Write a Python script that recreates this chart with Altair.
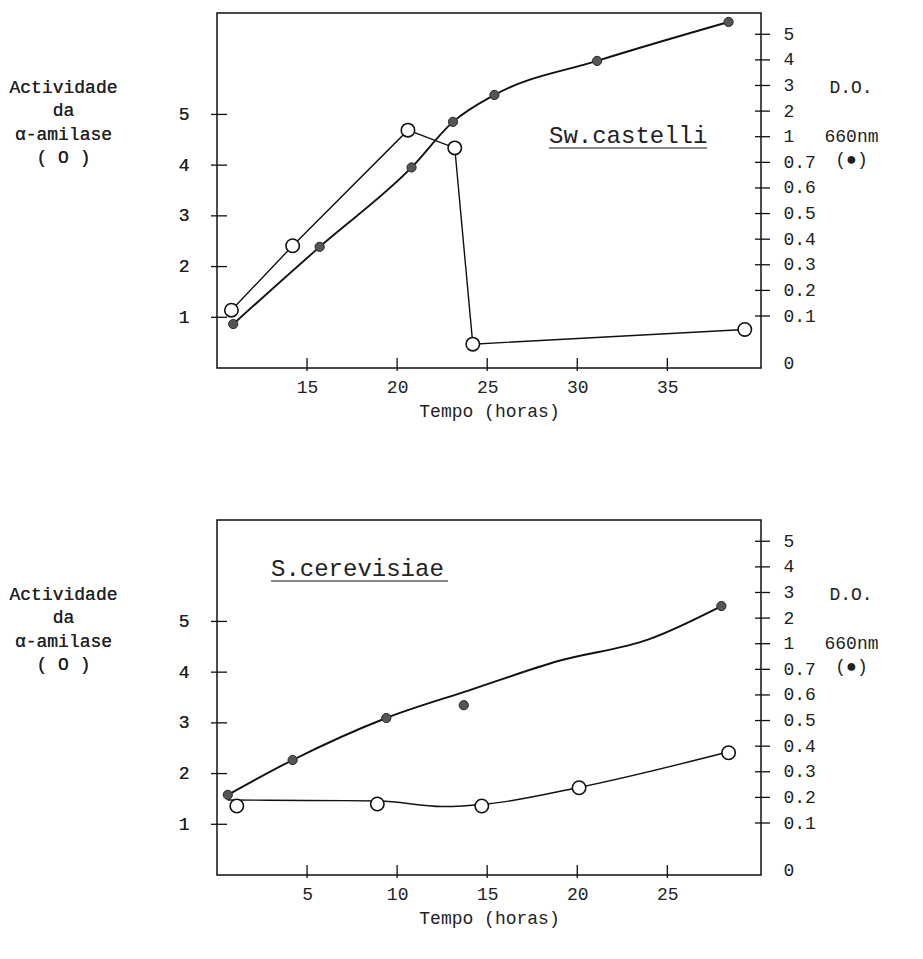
import altair as alt
import pandas as pd
import numpy as np

FONT = "Liberation Mono"
INK = "#111111"
TXT = "#222222"
FS = 18

# ---- Panel A : Sw. castelli ----
a_open_t = [10.8, 14.2, 20.6, 23.2, 24.2, 39.3]
a_open_v = [1.14, 2.41, 4.69, 4.34, 0.47, 0.76]
a_dark_t = [10.9, 15.7, 20.8, 23.1, 25.4, 31.1, 38.4]
a_dark_do = [0.083, 0.37, 0.68, 1.58, 2.63, 3.96, 5.48]

# ---- Panel B : S. cerevisiae ----
b_open_t = [1.1, 8.9, 14.7, 20.1, 28.4]
b_open_v = [1.36, 1.40, 1.36, 1.72, 2.41]
b_open_curve_t = [0.6, 5.0, 9.0, 12.5, 15.0, 20.0, 28.2]
b_open_curve_v = [1.48, 1.47, 1.46, 1.35, 1.40, 1.72, 2.41]
b_dark_t = [0.6, 4.2, 9.4, 13.7, 28.0]
b_dark_do = [0.21, 0.346, 0.51, 0.56, 2.47]
b_dark_curve_t = [0.6, 4.2, 9.4, 14.0, 19.0, 24.0, 28.0]
b_dark_curve_do = [0.21, 0.346, 0.51, 0.618, 0.80, 1.18, 2.47]

# ---- axes ----
left_ticks = [1, 2, 3, 4, 5]
do_ticks = [0, 0.1, 0.2, 0.3, 0.4, 0.5, 0.6, 0.7, 1, 2, 3, 4, 5]
do_labels = ["0", "0.1", "0.2", "0.3", "0.4", "0.5", "0.6", "0.7", "1", "2", "3", "4", "5"]
do_rank = [-0.85, 1, 2, 3, 4, 5, 6, 7, 8, 9, 10, 11, 12]
a_x_ticks = [15, 20, 25, 30, 35]
b_x_ticks = [5, 10, 15, 20, 25]

left_title = ["Actividade", "da", "\u03b1-amilase", "( O )"]
right_title_top = "D.O."
right_title = ["660nm", "(\u25cf)"]


def to_rank(vals):
    return np.interp(vals, do_ticks + [6], do_rank + [13]).tolist()


W, H = 544, 355
L_DOM = [0, 7]
R_DOM = [-1.03, 12.83]

label_js = "[" + ",".join("'%s'" % s for s in do_labels[1:]) + "]"
right_label_expr = "datum.value < 0 ? '0' : " + label_js + "[round(datum.value) - 1]"


def panel(x_dom, x_ticks, open_t, open_v, oline_t, oline_v, o_interp,
          dark_t, dark_do, dline_t, dline_do, species, sx, sy, sw):
    xs = alt.Scale(domain=x_dom, nice=False, zero=False)
    ls = alt.Scale(domain=L_DOM, nice=False, zero=False)
    rs = alt.Scale(domain=R_DOM, nice=False, zero=False)

    x_axis = alt.Axis(values=x_ticks, title="Tempo (horas)", ticks=False, domain=False,
                      grid=False, labelPadding=10, labelFont=FONT, labelFontSize=FS,
                      labelFlush=False, titleFont=FONT, titleFontSize=FS,
                      titleFontWeight="normal", titleY=43, titleBaseline="middle")
    l_axis = alt.Axis(values=left_ticks, orient="left", ticks=False, domain=False, grid=False,
                      labelPadding=28, labelFont=FONT, labelFontSize=FS, labelFlush=False,
                      title=left_title, titleAngle=0, titleAlign="center",
                      titleBaseline="alphabetic", titleX=-154, titleY=79,
                      titleLineHeight=23.5, titleFont=FONT, titleFontSize=FS,
                      titleFontWeight="normal")
    r_axis = alt.Axis(values=do_rank, orient="right", ticks=False, domain=False, grid=False,
                      labelPadding=22, labelFont=FONT, labelFontSize=FS, labelFlush=False,
                      labelOverlap=False, labelExpr=right_label_expr,
                      title=right_title, titleAngle=0, titleAlign="center",
                      titleBaseline="alphabetic", titleX=90, titleY=128,
                      titleLineHeight=23.5, titleFont=FONT, titleFontSize=FS,
                      titleFontWeight="normal")

    open_df = pd.DataFrame({"t": open_t, "v": open_v})
    oline_df = pd.DataFrame({"t": oline_t, "v": oline_v})
    dark_df = pd.DataFrame({"t": dark_t, "r": to_rank(dark_do)})
    dline_df = pd.DataFrame({"t": dline_t, "r": to_rank(dline_do)})
    lt_df = pd.DataFrame({"v": left_ticks})
    rt_df = pd.DataFrame({"r": do_rank[1:]})
    xt_df = pd.DataFrame({"t": x_ticks})

    X = lambda f: alt.X(f, scale=xs, axis=x_axis)
    YL = lambda f: alt.Y(f, scale=ls, axis=l_axis)
    YR = lambda f: alt.Y(f, scale=rs, axis=r_axis)

    open_line = alt.Chart(oline_df).mark_line(
        color=INK, strokeWidth=1.4, interpolate=o_interp).encode(x=X("t:Q"), y=YL("v:Q"))
    open_pts = alt.Chart(open_df).mark_point(
        shape="circle", filled=True, fill="white", stroke=INK, strokeWidth=1.6,
        size=180, opacity=1).encode(x=X("t:Q"), y=YL("v:Q"))
    l_ticks = alt.Chart(lt_df).mark_rule(color=INK, strokeWidth=1.3).encode(
        y=YL("v:Q"), x=alt.value(-6), x2=alt.value(10))
    x_tk = alt.Chart(xt_df).mark_rule(color=INK, strokeWidth=1.3).encode(
        x=X("t:Q"), y=alt.value(H - 10), y2=alt.value(H + 3))
    sp_df = pd.DataFrame({"s": [species]})
    sp_text = alt.Chart(sp_df).mark_text(
        align="left", baseline="middle", font=FONT, fontSize=24, color=TXT).encode(
        x=alt.value(sx), y=alt.value(sy), text="s:N")
    sp_line = alt.Chart(sp_df).mark_rule(color=INK, strokeWidth=1.2).encode(
        x=alt.value(sx), x2=alt.value(sx + sw), y=alt.value(sy + 12))
    do_df = pd.DataFrame({"s": [right_title_top]})
    do_text = alt.Chart(do_df).mark_text(
        align="center", baseline="alphabetic", font=FONT, fontSize=FS, color=TXT).encode(
        x=alt.value(W + 90), y=alt.value(80), text="s:N")

    dark_line = alt.Chart(dline_df).mark_line(
        color=INK, strokeWidth=1.9, interpolate="monotone").encode(x=X("t:Q"), y=YR("r:Q"))
    dark_pts = alt.Chart(dark_df).mark_point(
        shape="circle", filled=True, fill="#555555", stroke="#2a2a2a", strokeWidth=1,
        size=85, opacity=1).encode(x=X("t:Q"), y=YR("r:Q"))
    r_ticks = alt.Chart(rt_df).mark_rule(color=INK, strokeWidth=1.3).encode(
        y=YR("r:Q"), x=alt.value(W - 6), x2=alt.value(W + 9))

    left_layer = alt.layer(open_line, l_ticks, x_tk, sp_line, sp_text, do_text)
    right_layer = alt.layer(dark_line, r_ticks, dark_pts)
    top_layer = alt.layer(open_pts)
    return alt.layer(left_layer, right_layer, top_layer).resolve_scale(
        y="independent").properties(width=W, height=H)


pA = panel([10, 40.2], a_x_ticks, a_open_t, a_open_v, a_open_t, a_open_v, "linear",
           a_dark_t, a_dark_do, a_dark_t, a_dark_do, "Sw.castelli", 332, 123, 158)
pB = panel([0, 30.2], b_x_ticks, b_open_t, b_open_v, b_open_curve_t, b_open_curve_v,
           "monotone", b_dark_t, b_dark_do, b_dark_curve_t, b_dark_curve_do,
           "S.cerevisiae", 54, 49, 177)

chart = alt.vconcat(pA, pB, spacing=152, bounds="flush").properties(
    padding={"left": 0, "top": 4, "right": 5, "bottom": 5},
    background="white",
).configure_view(stroke=INK, strokeWidth=1.5).configure_axis(
    labelColor=TXT, titleColor=TXT)

chart.save("out.html", embed_options={"renderer": "svg", "actions": False})
